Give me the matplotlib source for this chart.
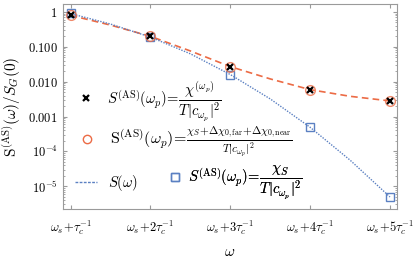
import matplotlib
matplotlib.use("Agg")
import matplotlib.pyplot as plt
from matplotlib.lines import Line2D

plt.rcParams['mathtext.fontset'] = 'cm'
plt.rcParams['font.family'] = 'serif'
plt.rcParams['font.serif'] = ['DejaVu Serif']

# detuning index (omega_s + n / tau_c)
n_pts = [1, 2, 3, 4, 5]
chi_full = [0.80, 0.20, 0.027, 0.0059, 0.0028]      # black crosses
chi_corr = [0.80, 0.20, 0.027, 0.0059, 0.0028]      # orange circles
chi_s = [0.92, 0.19, 0.016, 0.00049, 0.0000049]     # blue squares

# curves
n_curve = [1, 1.5, 2, 2.5, 3, 3.5, 4, 4.5, 5]
s_far = [0.80, 0.42, 0.20, 0.076, 0.027, 0.012, 0.0059, 0.0038, 0.0028]
s_omega = [0.90, 0.45, 0.19, 0.063, 0.016, 0.0032, 0.00049, 0.000056, 0.0000049]

xtick_labels = [r'$\omega_s\!+\!\tau_c^{-1}$', r'$\omega_s\!+\!2\tau_c^{-1}$',
                r'$\omega_s\!+\!3\tau_c^{-1}$', r'$\omega_s\!+\!4\tau_c^{-1}$',
                r'$\omega_s\!+\!5\tau_c^{-1}$']
ytick_vals = [1, 0.1, 0.01, 0.001, 1e-4, 1e-5]
ytick_labels = [r'$1$', r'$0.100$', r'$0.010$', r'$0.001$', r'$10^{-4}$', r'$10^{-5}$']

orange = '#EC6B45'
blue = '#5B80C2'
gray = '#9A9A9A'

fig = plt.figure(figsize=(4.15, 2.64), dpi=100)
ax = fig.add_axes([0.152, 0.208, 0.805, 0.777])

ax.plot(n_curve, s_far, ls=(0, (4, 2.5)), c=orange, lw=1.2)
ax.plot(n_curve, s_omega, ls=(0, (1, 1)), c=blue, lw=1.0)
ax.plot(n_pts, chi_s, ls='none', marker='s', ms=6, mfc='none', mec=blue, mew=1.0)
ax.plot(n_pts, chi_corr, ls='none', marker='o', ms=7, mfc='none', mec=orange, mew=1.0, alpha=0.8)
ax.plot(n_pts, chi_full, ls='none', marker='x', ms=4.5, c='black', mew=1.6)

ax.set_yscale('log')
ax.set_xlim(0.905, 5.09)
ax.set_ylim(2.2e-6, 1.7)
ax.set_xticks(n_pts)
ax.set_xticklabels(xtick_labels, fontsize=9)
ax.set_yticks(ytick_vals)
ax.set_yticklabels(ytick_labels, fontsize=9)
ax.tick_params(which='both', direction='in', color=gray, top=True, right=True)
ax.tick_params(axis='y', pad=4)
ax.tick_params(axis='x', pad=7)
ax.tick_params(which='major', length=3)
ax.tick_params(which='minor', length=1.5)
ax.tick_params(axis='x', which='minor', top=False, bottom=False)
for sp in ax.spines.values():
    sp.set_color(gray)

ax.set_xlabel(r'$\omega$', fontsize=11, labelpad=6)
ax.set_ylabel(r'$\mathrm{S}^{(\mathrm{AS})}(\omega)/S_G(0)$', fontsize=11, labelpad=3)

h1 = Line2D([], [], ls='none', marker='x', ms=4.5, c='black', mew=1.6)
h2 = Line2D([], [], ls='none', marker='o', ms=6, mfc='none', mec=orange, mew=1.0)
h3 = Line2D([], [], ls=(0, (2, 1)), c=blue, lw=1.0)
h4 = Line2D([], [], ls='none', marker='s', ms=6, mfc='none', mec=blue, mew=1.0)

lab1 = r'$S^{(\mathrm{AS})}(\omega_p)\!=\!\dfrac{\chi^{(\omega_p)}}{T|c_{\omega_p}|^2}$'
lab2 = r'$\mathrm{S}^{(\mathrm{AS})}(\omega_p)\!=\!\frac{\chi_S\!+\!\Delta\chi_{0,\mathrm{far}}\!+\!\Delta\chi_{0,\mathrm{near}}}{T|c_{\omega_p}|^2}$'
lab3 = r'$S(\omega)$'
lab4 = r'$S^{(\mathrm{AS})}(\omega_p)\!=\!\dfrac{\chi_S}{T|c_{\omega_p}|^2}$'

# one legend per row so each row sits where the reference has it
rows = [(h1, lab1, 0.036, 0.527, 1.5, 0.69, 10.5),
        (h2, lab2, 0.036, 0.327, 1.5, 0.69, 11.5),
        (h3, lab3, 0.036, 0.127, 1.5, 0.75, 10.5),
        (h4, lab4, 0.313, 0.127, 1.0, 0.39, 10.5)]
for h, lab, bx, by, hl, hp, fs in rows:
    leg = ax.legend([h], [lab], loc='center left', bbox_to_anchor=(bx, by),
                    frameon=False, fontsize=fs, borderpad=0, borderaxespad=0,
                    handlelength=hl, handletextpad=hp)
    ax.add_artist(leg)

fig.savefig('out.png', dpi=100)
